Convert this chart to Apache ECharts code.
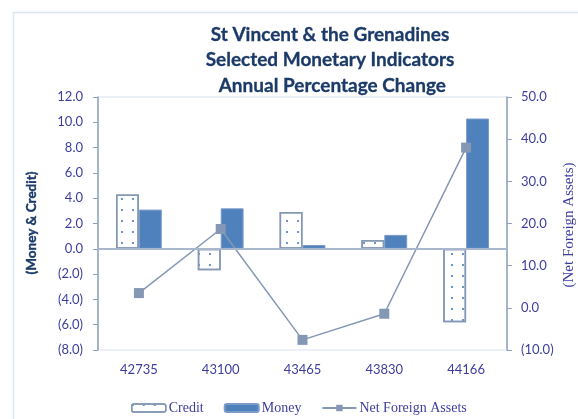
<!DOCTYPE html>
<html>
<head>
<meta charset="utf-8">
<script src="https://cdn.jsdelivr.net/npm/echarts@6/dist/echarts.min.js"></script>
<style>
  html, body { margin: 0; padding: 0; background: #fff; }
  #chart { width: 578px; height: 419px; }
</style>
</head>
<body>
<div id="chart"></div>
<script>
// Annual percentage change, St Vincent & the Grenadines
const categories = ['42735', '43100', '43465', '43830', '44166'];
const creditValues = [4.3, -1.7, 2.9, 0.7, -5.8];
const moneyValues = [3.1, 3.2, 0.3, 1.1, 10.3];
const nfaValues = [3.5, 18.7, -7.6, -1.4, 38.0];

const titleLines = ['St Vincent & the Grenadines', 'Selected Monetary Indicators', ' Annual Percentage Change'];

const labelColor = '#3D3D9E';
const axisColor = '#8EA0BE';
const lineColor = '#8497B4';

// accounting-style number format: negatives in brackets
function fmt(v) {
  return v < 0 ? '(' + Math.abs(v).toFixed(1) + ')' : v.toFixed(1);
}

// dotted fill for the credit bars
const creditDecal = {
  symbol: 'rect',
  symbolSize: 1,
  color: '#6F95CC',
  dashArrayX: [[2, 9]],
  dashArrayY: [2, 9],
  rotation: 0
};

const chart = echarts.init(document.getElementById('chart'), null, { renderer: 'canvas' });

chart.setOption({
  animation: false,
  backgroundColor: '#fff',
  title: {
    text: titleLines.join('\n'),
    left: 330,
    top: 22,
    padding: 0,
    textAlign: 'center',
    textStyle: {
      fontFamily: 'Lato',
      fontWeight: 'bold',
      fontSize: 19,
      lineHeight: 25.5,
      color: '#1B3A68',
      textBorderColor: '#1B3A68',
      textBorderWidth: 0.3
    }
  },
  graphic: [
    {
      type: 'rect',
      shape: { x: 13.5, y: 12.5, width: 700, height: 600 },
      style: { fill: 'none', stroke: '#DCE6F2', lineWidth: 1.5 },
      silent: true,
      z: -1
    },
    {
      type: 'text',
      x: 32, y: 223,
      rotation: Math.PI / 2,
      style: {
        text: '(Money & Credit)',
        fontFamily: 'Lato', fontWeight: 'bold', fontSize: 13.5,
        fill: '#1B3A68', stroke: '#1B3A68', lineWidth: 0.4,
        align: 'center', verticalAlign: 'middle'
      }
    },
    {
      type: 'text',
      x: 569, y: 225,
      rotation: Math.PI / 2,
      style: {
        text: '(Net Foreign Assets)',
        fontFamily: 'Liberation Serif', fontSize: 15,
        fill: labelColor, align: 'center', verticalAlign: 'middle'
      }
    }
  ],
  grid: {
    left: 98, right: 71, top: 97, bottom: 69,
    show: true,
    borderColor: '#D9E3F0',
    borderWidth: 1
  },
  legend: {
    left: 131,
    top: 401,
    padding: 0,
    itemWidth: 34,
    itemHeight: 8,
    itemGap: 20,
    textStyle: { fontFamily: 'Liberation Serif', fontSize: 14, color: labelColor, padding: [0, 0, 0, -2] },
    data: [
      { name: 'Credit', itemStyle: { color: '#fff', borderColor: lineColor, borderWidth: 1.5, decal: creditDecal } },
      { name: 'Money' },
      { name: 'Net Foreign Assets' }
    ]
  },
  xAxis: {
    type: 'category',
    data: categories,
    axisLine: { show: false, onZero: false },
    axisTick: { show: false },
    axisLabel: { fontFamily: 'Lato', fontSize: 13, color: labelColor, margin: 13 }
  },
  yAxis: [
    {
      type: 'value',
      min: -8, max: 12, interval: 2,
      splitLine: { show: false },
      axisLine: { show: true, lineStyle: { color: axisColor, width: 1.5 } },
      axisTick: { show: true, length: 5, lineStyle: { color: axisColor, width: 1 } },
      axisLabel: { fontFamily: 'Lato', fontSize: 13, color: labelColor, margin: 15, formatter: fmt }
    },
    {
      type: 'value',
      position: 'right',
      min: -10, max: 50, interval: 10,
      splitLine: { show: false },
      axisLine: { show: true, lineStyle: { color: axisColor, width: 1.5 } },
      axisTick: { show: true, length: 5, lineStyle: { color: axisColor, width: 1 } },
      axisLabel: { fontFamily: 'Lato', fontSize: 13, color: labelColor, margin: 14, formatter: fmt }
    }
  ],
  series: [
    {
      name: 'Credit',
      type: 'bar',
      data: creditValues,
      barWidth: '28%',
      barGap: '0%',
      itemStyle: { color: '#fff', borderColor: lineColor, borderWidth: 1.5, decal: creditDecal },
      markLine: {
        silent: true,
        symbol: 'none',
        label: { show: false },
        lineStyle: { color: '#A9B7CD', width: 2, type: 'solid' },
        data: [{ yAxis: 0 }]
      }
    },
    {
      name: 'Money',
      type: 'bar',
      data: moneyValues,
      barWidth: '28%',
      barGap: '0%',
      itemStyle: { color: '#4F81BD', borderColor: '#7D9CC8', borderWidth: 1 }
    },
    {
      name: 'Net Foreign Assets',
      type: 'line',
      yAxisIndex: 1,
      data: nfaValues,
      symbol: 'rect',
      symbolSize: 10,
      lineStyle: { color: lineColor, width: 1.5 },
      itemStyle: { color: lineColor }
    }
  ]
});
</script>
</body>
</html>
